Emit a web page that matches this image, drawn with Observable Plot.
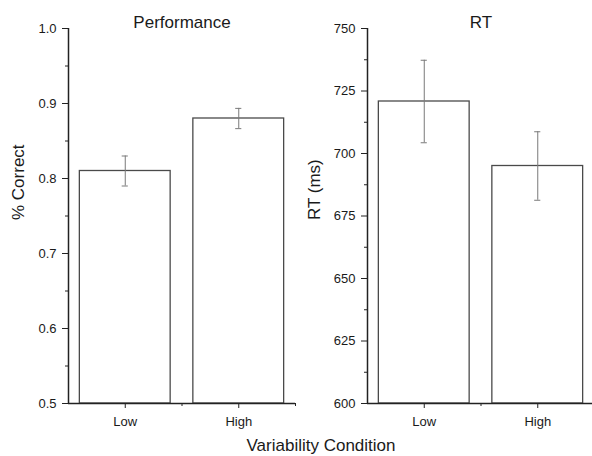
<!DOCTYPE html>
<html>
<head>
<meta charset="utf-8">
<script src="https://cdn.jsdelivr.net/npm/d3@7"></script>
<script src="https://cdn.jsdelivr.net/npm/@observablehq/plot@0.6"></script>
<style>
  html, body { margin: 0; padding: 0; background: #fff; overflow: hidden; }
  #wrap { position: relative; width: 592px; height: 456px; overflow: hidden; font-family: "Liberation Sans", Arial, sans-serif; }
  #wrap svg { position: absolute; top: 0; overflow: visible; }
  #xlabel { position: absolute; left: 0; width: 642px; top: 436px; text-align: center; font-size: 17px; line-height: 20px; color: #1a1a1a; }
</style>
</head>
<body>
<div id="wrap"><div id="xlabel">Variability Condition</div></div>
<script>
// ---- data ----
const conditions = ["Low", "High"];
const perfMean = [0.81, 0.88];
const perfErr = [0.02, 0.0135];
const rtMean = [720.8, 695.0];
const rtErr = [16.5, 13.7];

const perfMajorTicks = [0.5, 0.6, 0.7, 0.8, 0.9, 1.0];
const perfMinorTicks = [0.55, 0.65, 0.75, 0.85, 0.95];
const rtMajorTicks = [600, 625, 650, 675, 700, 725, 750];
const rtMinorTicks = [612.5, 637.5, 662.5, 687.5, 712.5, 737.5];

const xMajor = [1, 2];
const xMinor = [1.5, 2.5];

const FONT = "Liberation Sans, Arial, sans-serif";
const HALF = 0.4;     // half bar width in category units
const CAP = 0.027;    // half cap width in category units

function panel({title, ylabel, means, errs, yDomain, major, minor, fmt, width, marginLeft, marginRight}) {
  const rows = conditions.map((c, i) => ({c, pos: i + 1, m: means[i], e: errs[i]}));
  return Plot.plot({
    width, height: 430,
    marginLeft, marginRight, marginTop: 28, marginBottom: 27,
    style: {fontFamily: FONT, fontSize: "13px", color: "#1a1a1a", background: "transparent"},
    x: {type: "linear", domain: [0.5, 2.5], axis: null},
    y: {domain: yDomain, axis: null},
    marks: [
      // bars
      Plot.rect(rows, {x1: d => d.pos - HALF, x2: d => d.pos + HALF, y1: yDomain[0], y2: "m",
        fill: "white", stroke: "#4a4a4a", strokeWidth: 1.3}),
      // error bars
      Plot.ruleX(rows, {x: "pos", y1: d => d.m - d.e, y2: d => d.m + d.e, stroke: "#7a7a7a", strokeWidth: 1}),
      Plot.ruleY(rows, {y: d => d.m + d.e, x1: d => d.pos - CAP, x2: d => d.pos + CAP, stroke: "#7a7a7a", strokeWidth: 1}),
      Plot.ruleY(rows, {y: d => d.m - d.e, x1: d => d.pos - CAP, x2: d => d.pos + CAP, stroke: "#7a7a7a", strokeWidth: 1}),
      // axis lines
      Plot.ruleX([0.5], {stroke: "#222", strokeWidth: 1.5}),
      Plot.ruleY([yDomain[0]], {stroke: "#222", strokeWidth: 1.5}),
      // y axis
      Plot.axisY({ticks: major, tickFormat: fmt, tickSize: 6, tickPadding: 6, stroke: "#222", label: null}),
      Plot.axisY({ticks: minor, tickSize: 3, tickFormat: () => "", stroke: "#222", label: null}),
      // x axis
      Plot.axisX({ticks: xMajor, tickFormat: v => conditions[v - 1], tickSize: 5, tickPadding: 8, stroke: "#222", label: null}),
      Plot.axisX({ticks: xMinor, tickSize: 3, tickFormat: () => "", stroke: "#222", label: null}),
      // title
      Plot.text([title], {frameAnchor: "top", lineAnchor: "bottom", dy: -1, fontSize: 17, fill: "#1a1a1a"}),
      // y label
      Plot.text([ylabel], {frameAnchor: "left", rotate: -90, dx: -(marginLeft - 18), dy: 4, fontSize: 17, fill: "#1a1a1a"})
    ]
  });
}

const wrap = document.getElementById("wrap");
const left = panel({title: "Performance", ylabel: "% Correct", means: perfMean, errs: perfErr,
  yDomain: [0.5, 1.0], major: perfMajorTicks, minor: perfMinorTicks, fmt: d3.format(".1f"),
  width: 296, marginLeft: 68, marginRight: 1});
left.style.left = "0px";
const right = panel({title: "RT", ylabel: "RT (ms)", means: rtMean, errs: rtErr,
  yDomain: [600, 750], major: rtMajorTicks, minor: rtMinorTicks, fmt: d3.format("d"),
  width: 298, marginLeft: 71, marginRight: 0});
right.style.left = "296px";
wrap.appendChild(left);
wrap.appendChild(right);
</script>
</body>
</html>
